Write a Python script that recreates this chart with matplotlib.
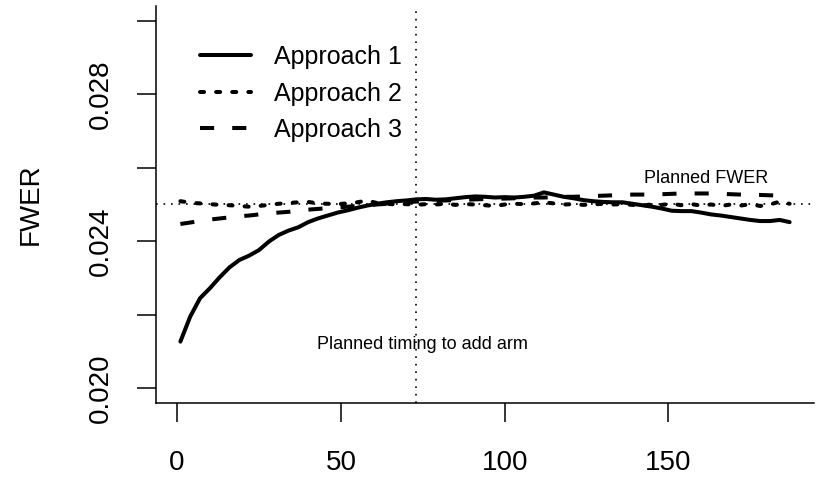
"""FWER by timing of adding an arm, three approaches (R base-graphics look)."""

import matplotlib
matplotlib.use("Agg")
import matplotlib.pyplot as plt

plt.rcParams["font.family"] = ["Liberation Sans", "DejaVu Sans"]

# timing of adding the new arm (x) and the simulated FWER of each approach
timing = [1, 4, 7, 10, 13, 16, 19, 22, 25, 28, 31, 34, 37, 40, 43, 46, 49, 52,
          55, 58, 61, 64, 67, 70, 73, 76, 79, 82, 85, 88, 91, 94, 97, 100, 103,
          106, 109, 112, 115, 118, 121, 124, 127, 130, 133, 136, 139, 142, 145,
          148, 151, 154, 157, 160, 163, 166, 169, 172, 175, 178, 181, 184, 187]

fwer_approach1 = [0.02127, 0.02195, 0.02245, 0.02272, 0.02302, 0.02329, 0.02349,
                  0.02361, 0.02376, 0.02399, 0.02417, 0.02429, 0.02438, 0.02452,
                  0.02462, 0.02470, 0.02478, 0.02484, 0.02491, 0.02497, 0.02502,
                  0.02506, 0.02509, 0.02511, 0.02514, 0.02515, 0.02513, 0.02514,
                  0.02517, 0.02520, 0.02522, 0.02521, 0.02519, 0.02520, 0.02519,
                  0.02521, 0.02524, 0.02533, 0.02527, 0.02521, 0.02517, 0.02512,
                  0.02509, 0.02507, 0.02506, 0.02506, 0.02502, 0.02498, 0.02494,
                  0.02489, 0.02483, 0.02482, 0.02482, 0.02478, 0.02473, 0.02470,
                  0.02466, 0.02462, 0.02458, 0.02455, 0.02455, 0.02458, 0.02452]

fwer_approach2 = [0.02509, 0.02505, 0.02503, 0.02501, 0.02499, 0.02498, 0.02496,
                  0.02494, 0.02496, 0.02499, 0.02502, 0.02504, 0.02506, 0.02507,
                  0.02503, 0.02502, 0.02501, 0.02503, 0.02506, 0.02511, 0.02504,
                  0.02502, 0.02500, 0.02501, 0.02499, 0.02501, 0.02500, 0.02502,
                  0.02499, 0.02501, 0.02500, 0.02498, 0.02496, 0.02500, 0.02502,
                  0.02501, 0.02503, 0.02506, 0.02503, 0.02500, 0.02501, 0.02499,
                  0.02500, 0.02502, 0.02500, 0.02501, 0.02499, 0.02496, 0.02501,
                  0.02499, 0.02502, 0.02498, 0.02501, 0.02497, 0.02500, 0.02496,
                  0.02500, 0.02497, 0.02501, 0.02496, 0.02500, 0.02508, 0.02502]

fwer_approach3 = [0.02447, 0.02451, 0.02455, 0.02459, 0.02462, 0.02465, 0.02468,
                  0.02470, 0.02473, 0.02476, 0.02478, 0.02480, 0.02483, 0.02486,
                  0.02488, 0.02490, 0.02492, 0.02494, 0.02496, 0.02498, 0.02500,
                  0.02502, 0.02504, 0.02506, 0.02508, 0.02509, 0.02510, 0.02511,
                  0.02512, 0.02513, 0.02514, 0.02515, 0.02516, 0.02516, 0.02517,
                  0.02518, 0.02519, 0.02519, 0.02520, 0.02521, 0.02521, 0.02522,
                  0.02523, 0.02524, 0.02525, 0.02526, 0.02527, 0.02527, 0.02527,
                  0.02528, 0.02529, 0.02530, 0.02530, 0.02530, 0.02530, 0.02529,
                  0.02528, 0.02527, 0.02526, 0.02526, 0.02525, 0.02524, 0.02522]

series_labels = ["Approach 1", "Approach 2", "Approach 3"]

planned_fwer = 0.025
planned_timing = 73

x_ticks = [0, 50, 100, 150]
y_ticks = [0.020, 0.022, 0.024, 0.026, 0.028, 0.030]
y_tick_labels = ["0.020", "", "0.024", "", "0.028", ""]
y_limits = (0.020, 0.030)

LW = 2.9          # thick curves (R lwd ~4 at this size)
THIN = 1.2        # reference lines


def r_range(lo, hi):
    # R's default 4% padding on each side
    pad = 0.04 * (hi - lo)
    return lo - pad, hi + pad


fig = plt.figure(figsize=(8.17, 4.78), dpi=100)
ax = fig.add_axes([156 / 817, 75 / 478, (814 - 156) / 817, (472 - 75) / 478])

ax.plot(timing, fwer_approach1, color="black", lw=LW, ls="-",
        solid_capstyle="round", solid_joinstyle="round", label=series_labels[0])
ax.plot(timing, fwer_approach2, color="black", lw=LW, ls=(0, (1, 3)),
        dash_capstyle="round", label=series_labels[1])
ax.plot(timing, fwer_approach3, color="black", lw=LW, ls=(0, (3.5, 4.5)),
        dash_capstyle="butt", label=series_labels[2])

ax.axhline(planned_fwer, color="black", lw=THIN, ls=(0, (1, 3.5)))
ax.axvline(planned_timing, color="black", lw=THIN, ls=(0, (1, 3.5)))

ax.text(161.5, 0.02558, "Planned FWER", fontsize=13, ha="center", va="baseline")
ax.text(75, 0.02106, "Planned timing to add arm", fontsize=13,
        ha="center", va="baseline")

ax.set_xlim(*r_range(min(timing), max(timing)))
ax.set_ylim(*r_range(*y_limits))

ax.set_xticks(x_ticks)
ax.set_xticklabels([str(t) for t in x_ticks])
ax.set_yticks(y_ticks)
ax.set_yticklabels(y_tick_labels, rotation=90, va="center")
ax.tick_params(axis="both", direction="out", length=13.7, width=1.1,
               labelsize=20, color="black")
ax.tick_params(axis="x", pad=20)
ax.tick_params(axis="y", pad=16.5)

ax.set_ylabel("FWER", fontsize=20, labelpad=32)

for side in ("top", "right"):
    ax.spines[side].set_visible(False)
for side in ("left", "bottom"):
    ax.spines[side].set_linewidth(1.1)

ax.legend(loc="upper left", bbox_to_anchor=((200 - 156) / 658, (403 - 45) / 397),
          frameon=False, fontsize=18, handlelength=2.05, handletextpad=0.9,
          labelspacing=0.5, borderpad=0, borderaxespad=0)

fig.savefig("out.png", dpi=100)
